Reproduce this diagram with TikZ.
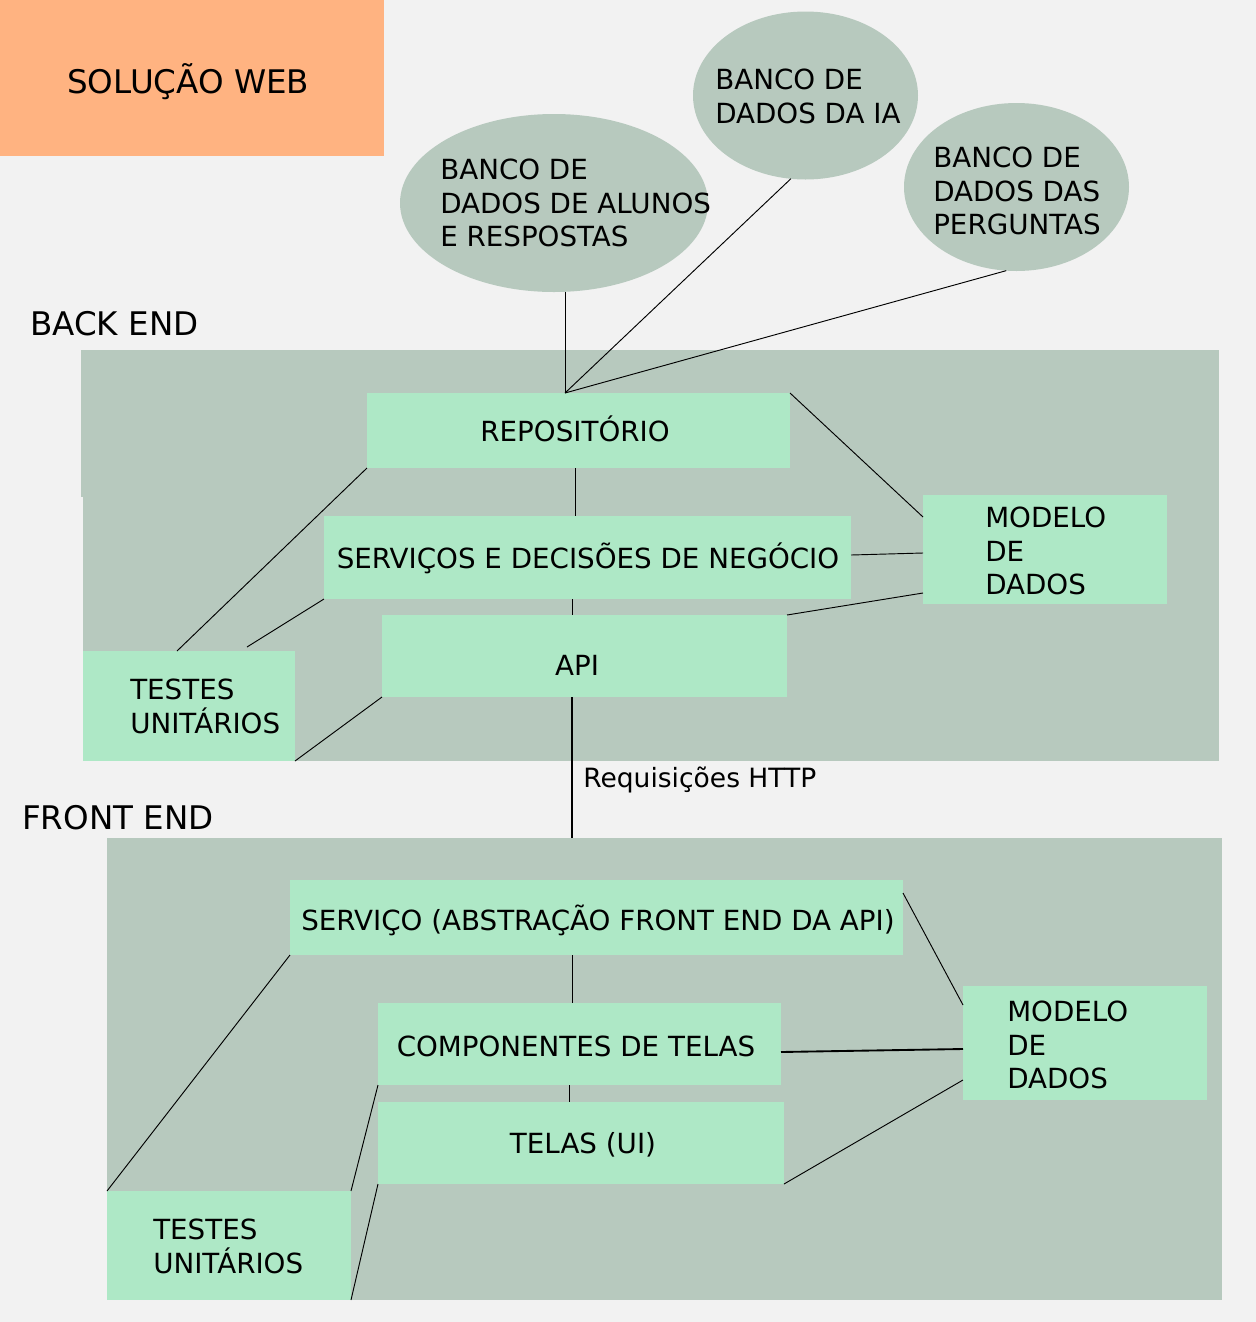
\documentclass[tikz,border=0pt]{standalone}
\usepackage{fontspec}
\setmainfont{DejaVu Sans}
\usetikzlibrary{shapes.geometric,fit}
\definecolor{bgc}{HTML}{F2F2F2}
\definecolor{zonec}{HTML}{B7C9BE}
\definecolor{boxc}{HTML}{AEE8C6}
\definecolor{orangec}{HTML}{FFB381}
\newcommand{\bxfont}{\fontsize{20.8}{25.1}\selectfont}
\newcommand{\bigfont}{\fontsize{24.4}{28}\selectfont}
\newcommand{\lblfont}{\fontsize{19.9}{24}\selectfont}
\begin{document}
\begin{tikzpicture}[x=0.75pt,y=-0.75pt,
  zonebox/.style={fill=zonec, draw=none, inner sep=0pt, outer sep=0pt},
  greenbox/.style={fill=boxc, draw=none, inner sep=0pt, outer sep=0pt},
  boxtext/.style={font=\bxfont, inner sep=0pt, text height=15.16pt, text depth=0pt},
  dbell/.style={ellipse, fill=zonec, draw=none, inner sep=0pt, outer sep=0pt},
  multitext/.style={font=\bxfont, align=left, anchor=north west, inner sep=0pt},
  bigtext/.style={font=\bigfont, anchor=west, inner sep=0pt, text height=17.8pt, text depth=0pt},
  conn/.style={draw=black, line width=0.7pt},
  thickconn/.style={draw=black, line width=1.4pt}]
\useasboundingbox (0,0) rectangle (1256,1322);
\fill[bgc] (0,0) rectangle (1256,1322);

% title
\node[fit={(0,0)(384,156)}, fill=orangec, inner sep=0pt, outer sep=0pt] (sol) {};
\node[bigtext] (soltxt) at (67,82) {SOLUÇÃO WEB};

% databases
\node[dbell, minimum width=231pt, minimum height=133.5pt] (alunos) at (554,203) {};
\node[multitext] (alunostxt) at (440,158.9) {BANCO DE\\DADOS DE ALUNOS\\E RESPOSTAS};
\node[dbell, minimum width=168.75pt, minimum height=126pt] (ia) at (805.5,95.5) {};
\node[multitext] (iatxt) at (715,68.9) {BANCO DE\\DADOS DA IA};
\node[dbell, minimum width=168.75pt, minimum height=126pt] (pq) at (1016.5,187) {};
\node[multitext] (pqtxt) at (933,146.9) {BANCO DE\\DADOS DAS\\PERGUNTAS};

% back end
\node[bigtext] (belabel) at (30,324) {BACK END};
\fill[zonec] (81,350) rectangle (84,497);
\node[zonebox, fit={(83,350)(1219,761)}] (back) {};
\node[greenbox, fit={(367,393)(790,468)}] (repo) {};
\node[boxtext] (repotxt) at (575,431) {REPOSITÓRIO};
\node[greenbox, fit={(324,516)(851,599)}] (serv) {};
\node[boxtext] (servtxt) at (588,558) {SERVIÇOS E DECISÕES DE NEGÓCIO};
\node[greenbox, fit={(382,615)(787,697)}] (api) {};
\node[boxtext] (apitxt) at (577,665) {API};
\node[greenbox, fit={(923,495)(1167,604)}] (modb) {};
\node[multitext] (modbtxt) at (985,506.9) {MODELO\\DE\\DADOS};
\node[greenbox, fit={(83,651)(295,761)}] (testb) {};
\node[multitext] (testbtxt) at (130,678.9) {TESTES\\UNITÁRIOS};

\coordinate (hub) at (565,393);
\coordinate (tb2) at (247,647);
\draw[conn] (alunos.south -| hub) -- (hub);
\draw[conn] (ia.-100) -- (hub);
\draw[conn] (pq.-97) -- (hub);
\draw[conn] (repo.north east) -- (modb.west |- 0,517);
\draw[conn] (serv.east |- 0,555) -- (modb.west |- 0,553);
\draw[conn] (api.north east) -- (modb.west |- 0,593);
\draw[conn] (repo.south -| 575,0) -- (serv.north -| 575,0);
\draw[conn] (serv.south -| 572,0) -- (api.north -| 572,0);
\draw[conn] (repo.south west) -- (testb.north -| 177,0);
\draw[conn] (serv.south west) -- (tb2);
\draw[conn] (api.south west) -- (testb.south east);

% front end
\node[bigtext] (felabel) at (22,818) {FRONT END};
\node[zonebox, fit={(107,838)(1222,1300)}] (front) {};
\node[greenbox, fit={(290,880)(903,955)}] (fserv) {};
\node[boxtext] (fservtxt) at (598,920) {SERVIÇO (ABSTRAÇÃO FRONT END DA API)};
\node[greenbox, fit={(378,1003)(781,1085)}] (comp) {};
\node[boxtext] (comptxt) at (576,1046) {COMPONENTES DE TELAS};
\node[greenbox, fit={(378,1102)(784,1184)}] (telas) {};
\node[boxtext] (telastxt) at (583,1143) {TELAS (UI)};
\node[greenbox, fit={(963,986)(1207,1100)}] (modf) {};
\node[multitext] (modftxt) at (1007,1000.9) {MODELO\\DE\\DADOS};
\node[greenbox, fit={(107,1191)(351,1300)}] (testf) {};
\node[multitext] (testftxt) at (153,1218.9) {TESTES\\UNITÁRIOS};

\draw[thickconn] (api.south -| 572,0) -- (front.north -| 572,0);
\node[font=\lblfont, anchor=west, inner sep=0pt, text height=14.5pt, text depth=0pt] (http) at (583,778) {Requisições HTTP};

\draw[conn] (fserv.south -| 572,0) -- (comp.north -| 572,0);
\draw[conn] (comp.south -| 569,0) -- (telas.north -| 569,0);
\draw[conn] (fserv.east |- 0,893) -- (modf.west |- 0,1005);
\draw[thickconn] (comp.east |- 0,1052) -- (modf.west |- 0,1049);
\draw[conn] (telas.south east) -- (modf.west |- 0,1080);
\draw[conn] (fserv.south west) -- (testf.north west);
\draw[conn] (comp.south west) -- (testf.north east);
\draw[conn] (telas.south west) -- (testf.south east);
\end{tikzpicture}
\end{document}
